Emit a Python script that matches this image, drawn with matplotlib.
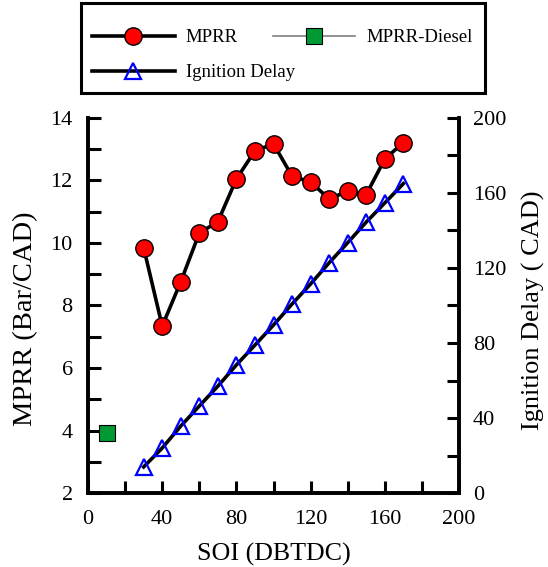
#!/usr/bin/env python3
"""MPRR and ignition delay versus SOI, twin-axis line chart."""

import matplotlib

matplotlib.use("Agg")
import matplotlib.pyplot as plt
from matplotlib.patches import Rectangle
from matplotlib.ticker import MultipleLocator

SOI = [30, 40, 50, 60, 70, 80, 90, 100, 110, 120, 130, 140, 150, 160, 170]
MPRR = [9.85, 7.34, 8.76, 10.32, 10.68, 12.05, 12.95, 13.17, 12.14, 11.95,
        11.41, 11.66, 11.55, 12.69, 13.21]
IGNITION_DELAY = [13.9, 24.0, 35.7, 46.4, 57.0, 68.3, 78.9, 89.6, 100.8, 111.5,
                  122.8, 133.5, 144.5, 154.7, 165.0]
DIESEL_SOI = [10]
DIESEL_MPRR = [3.93]

FONT = ["Liberation Serif", "DejaVu Serif"]
SPINE_W = 2.6

plt.rcParams.update({
    "font.family": "serif",
    "font.serif": FONT,
    "font.size": 16,
})

fig = plt.figure(figsize=(5.48, 5.67), dpi=100)
ax = fig.add_axes([0.1606, 0.1305, 0.677, 0.6614])
ax2 = ax.twinx()

(l_mprr,) = ax.plot(SOI, MPRR, color="black", lw=2.6, marker="o", ms=12.5,
                    mfc="#FF0000", mec="black", mew=1.0, zorder=3)
(l_diesel,) = ax.plot(DIESEL_SOI, DIESEL_MPRR, color="#808080", lw=1.2, marker="s",
                      ms=11.5, mfc="#009933", mec="black", mew=0.8, zorder=3,
                      clip_on=False)
(l_id,) = ax2.plot(SOI, IGNITION_DELAY, color="black", lw=2.6, marker="^", ms=11,
                   mfc="none", mec="#0000FF", mew=1.6, zorder=3)

ax.set_xlim(0, 200)
ax.set_ylim(2, 14)
ax2.set_ylim(0, 200)

ax.xaxis.set_major_locator(MultipleLocator(40))
ax.xaxis.set_minor_locator(MultipleLocator(20))
ax.yaxis.set_major_locator(MultipleLocator(2))
ax.yaxis.set_minor_locator(MultipleLocator(1))
ax2.yaxis.set_major_locator(MultipleLocator(40))
ax2.yaxis.set_minor_locator(MultipleLocator(20))

for a in (ax, ax2):
    a.spines["top"].set_visible(False)
    for side in ("left", "right", "bottom"):
        a.spines[side].set_linewidth(SPINE_W)
    a.tick_params(which="both", direction="in", length=9, width=2.2, labelsize=16)

ax.tick_params(axis="x", pad=12)
ax.tick_params(axis="y", pad=11, right=False)
ax2.tick_params(axis="y", pad=10)

ax.set_xlabel("SOI (DBTDC)", fontsize=18.7, labelpad=10)
ax.set_ylabel("MPRR (Bar/CAD)", fontsize=20.5, labelpad=9)
ax2.set_ylabel("Ignition Delay ( CAD)", fontsize=19, labelpad=11)
ax.yaxis.label.set_y(0.464)
ax2.yaxis.label.set_y(0.488)

# legend frame drawn separately so the padding can match the original box
fig.patches.append(Rectangle((81 / 548, 1 - 93 / 567), 404 / 548, 90 / 567,
                             transform=fig.transFigure, facecolor="white",
                             edgecolor="black", lw=2.2, zorder=0))
fig.legend(
    [l_mprr, l_id, l_diesel],
    ["MPRR", "Ignition Delay", "MPRR-Diesel"],
    loc="upper left",
    bbox_to_anchor=(92 / 548, 0.5, 381 / 548, 1 - 29 / 567 - 0.5),
    mode="expand",
    ncol=2,
    fontsize=13.5,
    handlelength=4.4,
    handletextpad=0.6,
    columnspacing=1.0,
    borderaxespad=0.0,
    borderpad=0.0,
    labelspacing=0.95,
    frameon=False,
)

fig.savefig("out.png", dpi=100)
